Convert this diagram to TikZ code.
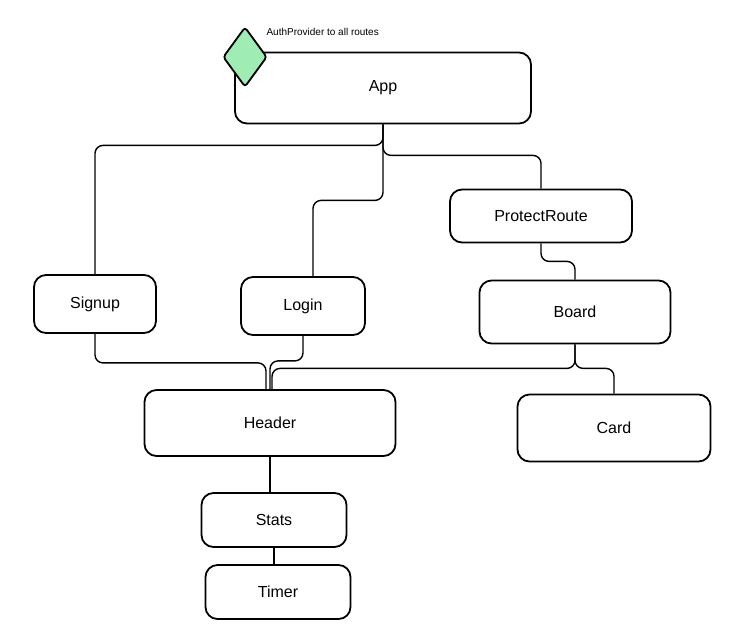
\documentclass[tikz,border=0pt]{standalone}
\usepackage{fontspec}
\setmainfont{Liberation Sans}
\usetikzlibrary{shapes.geometric}

\begin{document}
\begin{tikzpicture}[x=1pt,y=-1pt]
		\useasboundingbox (0,0) rectangle (735,641);
		\tikzstyle{box}=[draw,line width=1.8pt,rounded corners=12,inner sep=0pt,font=\fontsize{16}{19}\selectfont]
		\tikzstyle{link}=[line width=1.4pt,rounded corners=8]
		\node[box,minimum width=296,minimum height=71] (app) at (383,88) {App};
		\node[box,minimum width=182,minimum height=53] (protect) at (541,216) {ProtectRoute};
		\node[box,minimum width=122,minimum height=58] (signup) at (95,304) {Signup};
		\node[box,minimum width=124,minimum height=58] (login) at (303,306) {Login};
		\node[box,minimum width=191,minimum height=63] (board) at (575,312) {Board};
		\node[box,minimum width=251,minimum height=66] (header) at (270,423) {Header};
		\node[box,minimum width=193,minimum height=67] (card) at (614,428) {Card};
		\node[box,minimum width=145,minimum height=54] (stats) at (274,520) {Stats};
		\node[box,minimum width=145,minimum height=54] (timer) at (278,592) {Timer};
		\node[diamond,draw,line width=1.8pt,fill={rgb,255:red,160;green,236;blue,181},rounded corners=3,minimum width=44,minimum height=60,inner sep=0pt] (auth) at (245,57) {};
		\node[anchor=west,font=\fontsize{10}{12}\selectfont] (authlabel) at (263,32) {AuthProvider to all routes};
		\draw[link] (app.south) -- ++(0,21) -| (signup.north);
		\draw[link] (app.south) -- ++(0,76) -| ([xshift=10]login.north);
		\draw[link] (app.south) -- ++(0,31) -| (protect.north);
		\draw[link] (protect.south) -- ++(0,18) -| (board.north);
		\draw[link] (signup.south) -- ++(0,29) -| ([xshift=-4]header.north);
		\draw[link] (login.south) -- ++(0,25) -| (header.north);
		\draw[link] (board.south) -- ++(0,24) -| ([xshift=2]header.north);
		\draw[link] (board.south) -- ++(0,24) -| (card.north);
		\draw[link] (header.south) -- (header.south |- stats.north);
		\draw[link] (stats.south) -- (stats.south |- timer.north);
\end{tikzpicture}
\end{document}
